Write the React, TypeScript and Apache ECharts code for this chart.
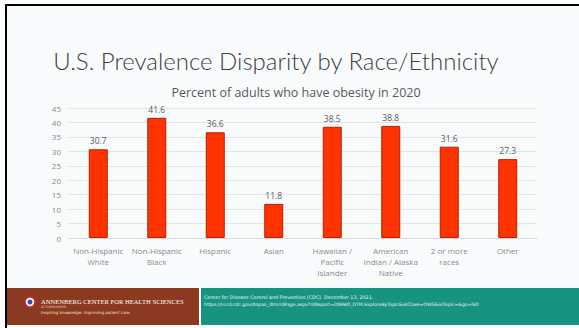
import React, { useEffect, useRef } from "react";
import * as echarts from "echarts";

const categories = [
  "Non-Hispanic\nWhite",
  "Non-Hispanic\nBlack",
  "Hispanic",
  "Asian",
  "Hawaiian /\nPacific\nIslander",
  "American\nIndian / Alaska\nNative",
  "2 or more\nraces",
  "Other",
];
const obesityPct = [30.7, 41.6, 36.6, 11.8, 38.5, 38.8, 31.6, 27.3];
const yTicks = { min: 0, max: 45, interval: 5 };

const titleText = "U.S. Prevalence Disparity by Race/Ethnicity";
const subtitleText = "Percent of adults who have obesity in 2020";
const sourceLine1 = "Center for Disease Control and Prevention (CDC). December 13, 2021.";
const sourceLine2 =
  "https://nccd.cdc.gov/dnpao_dtm/rdPage.aspx?rdReport=DNPAO_DTM.ExploreByTopic&islClass=OWS&islTopic=&go=GO";

export default function App() {
  const ref = useRef<HTMLDivElement>(null);
  useEffect(() => {
    if (!ref.current) return;
    const chart = echarts.init(ref.current, null, { renderer: "svg" });
    chart.setOption({
      animation: false,
      backgroundColor: "#ffffff",
      graphic: [
        { type: "rect", z: -10, shape: { x: 6, y: 5, width: 573, height: 323 }, style: { fill: "#f8fbfc" } },
        { type: "rect", z: 10, shape: { x: 5, y: 4, width: 574, height: 2 }, style: { fill: "#000000" } },
        { type: "rect", z: 10, shape: { x: 5, y: 4, width: 2, height: 324 }, style: { fill: "#000000" } },
        { type: "rect", shape: { x: 7, y: 288, width: 192, height: 37 }, style: { fill: "#8b3a21" } },
        { type: "rect", shape: { x: 201, y: 288, width: 378, height: 37 }, style: { fill: "#17947f" } },
        { type: "circle", shape: { cx: 30, cy: 302, r: 5 }, style: { fill: "#ffffff", stroke: "#d22b2b", lineWidth: 1.5 } },
        { type: "circle", shape: { cx: 30, cy: 302, r: 2.5 }, style: { fill: "#2a4fb0" } },
        {
          type: "text",
          style: { x: 41, y: 301, text: "ANNENBERG CENTER FOR HEALTH SCIENCES", fill: "#ffffff", font: "6.6px 'Liberation Serif'", verticalAlign: "middle" },
        },
        {
          type: "text",
          style: { x: 41, y: 307, text: "AT EISENHOWER", fill: "#e8d9cf", font: "3px 'DejaVu Sans'", verticalAlign: "middle" },
        },
        {
          type: "text",
          style: { x: 41, y: 312, text: "Inspiring knowledge. Improving patient care.", fill: "#f2e6b8", font: "4px 'DejaVu Sans'", verticalAlign: "middle" },
        },
        {
          type: "text",
          style: { x: 204, y: 297, text: sourceLine1, fill: "#e6f5f1", font: "4.8px 'DejaVu Sans'", verticalAlign: "middle" },
        },
        {
          type: "text",
          style: { x: 204, y: 304, text: sourceLine2, fill: "#e6f5f1", font: "4.6px 'DejaVu Sans'", verticalAlign: "middle" },
        },
      ],
      title: [
        {
          text: titleText,
          left: 271,
          top: 43,
          textAlign: "center",
          textStyle: { fontFamily: "Lato", fontWeight: 300, fontSize: 24, color: "#404040" },
        },
        {
          text: subtitleText,
          left: 291,
          top: 81,
          textAlign: "center",
          textStyle: { fontFamily: "Open Sans", fontWeight: 400, fontSize: 12.5, color: "#595959" },
        },
      ],
      grid: { left: 69, right: 42, top: 108, bottom: 90, containLabel: false },
      xAxis: {
        type: "category",
        data: categories,
        axisLine: { lineStyle: { color: "#d9d9d9" } },
        axisTick: { show: false },
        axisLabel: {
          color: "#8a8a8a",
          fontSize: 8,
          fontFamily: "Open Sans",
          lineHeight: 11,
          margin: 7,
          interval: 0,
        },
      },
      yAxis: {
        type: "value",
        min: yTicks.min,
        max: yTicks.max,
        interval: yTicks.interval,
        axisLine: { show: false },
        axisTick: { show: false },
        splitLine: { lineStyle: { color: "#e3e3e3" } },
        axisLabel: { color: "#8a8a8a", fontSize: 8, fontFamily: "Open Sans", margin: 8 },
      },
      series: [
        {
          type: "bar",
          data: obesityPct,
          barWidth: 19,
          itemStyle: { color: "#ff3300", borderColor: "#b52000", borderWidth: 1 },
          label: {
            show: true,
            position: "top",
            distance: 4,
            color: "#595959",
            fontSize: 8.5,
            fontFamily: "Open Sans",
          },
        },
      ],
    });
    return () => chart.dispose();
  }, []);
  return (
    <div
      ref={ref}
      style={{ position: "fixed", left: 0, top: 0, width: 579, height: 328 }}
    />
  );
}
